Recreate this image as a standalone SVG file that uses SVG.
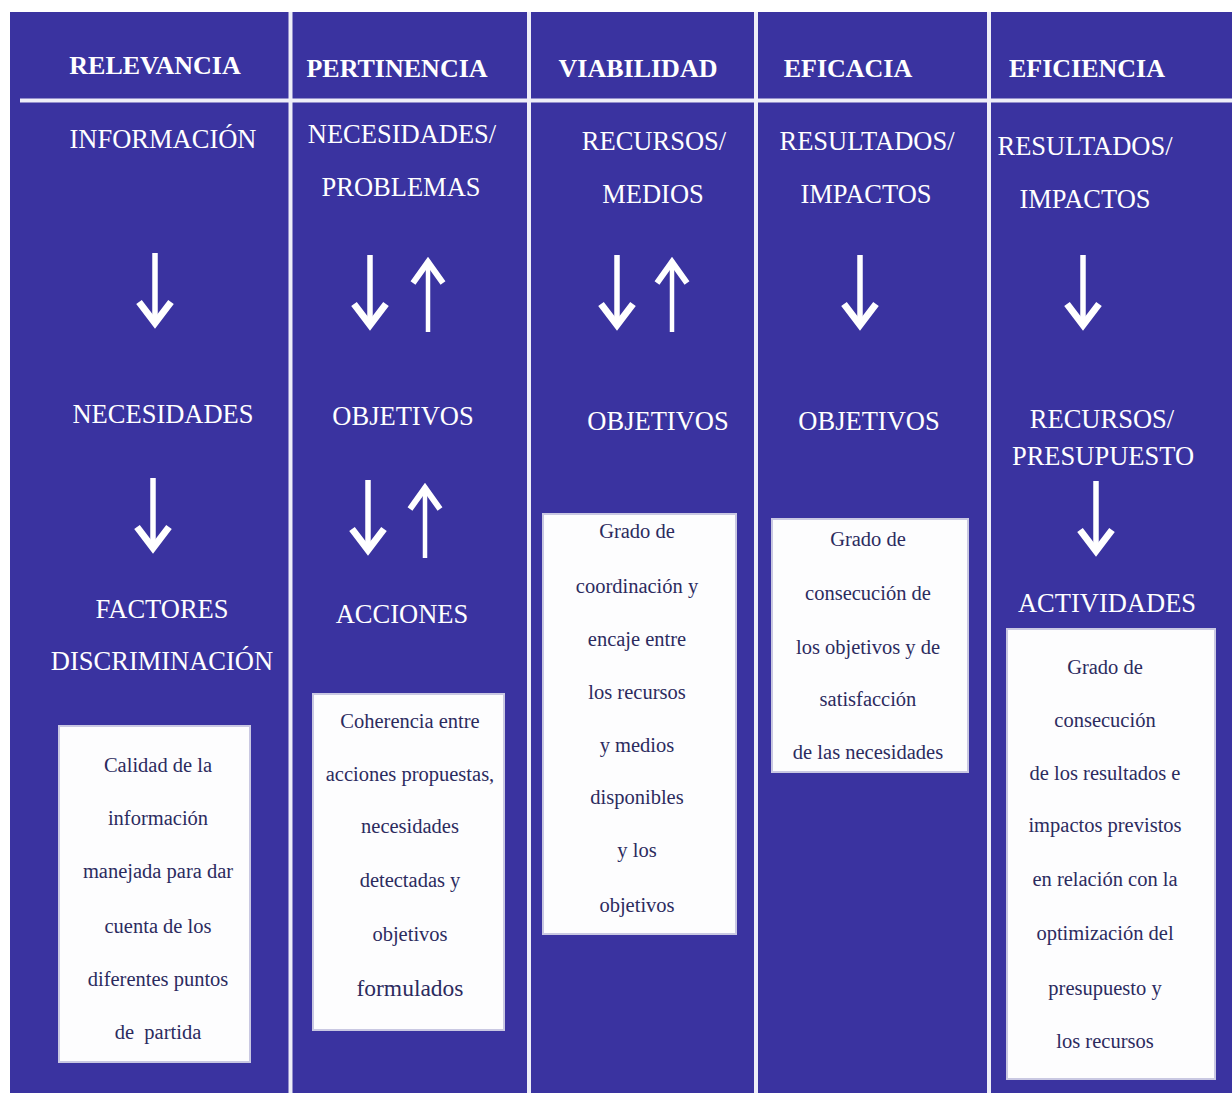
<svg xmlns="http://www.w3.org/2000/svg" xmlns:xlink="http://www.w3.org/1999/xlink" width="1232" height="1093" viewBox="0 0 1232 1093">
  <style>
    .panel { fill: #3a33a0; }
    .rule { stroke: #eeeef8; stroke-width: 4; fill: none; }
    text { font-family: 'Liberation Serif', 'DejaVu Serif', serif; }
    .head { font-weight: bold; font-size: 26px; fill: #ffffff; text-anchor: middle; }
    .lbl { font-size: 26.5px; fill: #ffffff; text-anchor: middle; }
    .box { fill: #fdfdfe; stroke: #c9c8e2; stroke-width: 2; }
    .txt { font-size: 20.5px; fill: #2c2b5e; text-anchor: middle; }
    .big { font-size: 23.5px; }
    .shaft { stroke: #ffffff; fill: none; }
    .tip { stroke: #ffffff; fill: none; stroke-linejoin: miter; stroke-miterlimit: 10; }
  </style>
  <defs>
    <!-- downward arrow: shaft top at origin, point 77px below -->
    <g id="down">
      <path class="shaft" d="M0 0 V70" stroke-width="5.5"/>
      <polyline class="tip" points="-16,49 0,70 16,49" stroke-width="7"/>
    </g>
    <!-- upward arrow: point at origin, shaft end 77px below -->
    <g id="up">
      <path class="shaft" d="M0 6 V77" stroke-width="4.5"/>
      <polyline class="tip" points="-15,28 0,7 15,28" stroke-width="6"/>
    </g>
  </defs>

  <rect x="0" y="0" width="1232" height="1093" fill="#ffffff"/>
  <rect class="panel" x="10" y="12" width="1222" height="1081"/>

  <!-- column and header dividers -->
  <g id="grid">
    <line class="rule" x1="20" y1="100.5" x2="1232" y2="100.5"/>
    <line class="rule" x1="290.5" y1="12" x2="290.5" y2="1093"/>
    <line class="rule" x1="529" y1="12" x2="529" y2="1093"/>
    <line class="rule" x1="756" y1="12" x2="756" y2="1093"/>
    <line class="rule" x1="989" y1="12" x2="989" y2="1093"/>
  </g>

  <!-- column 1: RELEVANCIA -->
  <g id="relevancia">
    <text class="head" x="155" y="74">RELEVANCIA</text>
    <text class="lbl" x="163" y="148">INFORMACIÓN</text>
    <text class="lbl" x="163" y="423">NECESIDADES</text>
    <text class="lbl" x="162" y="618">FACTORES</text>
    <text class="lbl" x="162" y="670">DISCRIMINACIÓN</text>
  </g>
  <g id="relevancia-box">
    <rect class="box" x="59" y="726" width="191" height="336"/>
    <text class="txt" x="158" y="772">Calidad de la</text>
    <text class="txt" x="158" y="825">información</text>
    <text class="txt" x="158" y="878">manejada para dar</text>
    <text class="txt" x="158" y="933">cuenta de los</text>
    <text class="txt" x="158" y="986">diferentes puntos</text>
    <text class="txt" x="158" y="1039" xml:space="preserve">de  partida</text>
  </g>

  <!-- column 2: PERTINENCIA -->
  <g id="pertinencia">
    <text class="head" x="397" y="77">PERTINENCIA</text>
    <text class="lbl" x="402" y="143">NECESIDADES/</text>
    <text class="lbl" x="401" y="196">PROBLEMAS</text>
    <text class="lbl" x="403" y="425">OBJETIVOS</text>
    <text class="lbl" x="402" y="623">ACCIONES</text>
  </g>
  <g id="pertinencia-box">
    <rect class="box" x="313" y="694" width="191" height="336"/>
    <text class="txt" x="410" y="728">Coherencia entre</text>
    <text class="txt" x="410" y="781">acciones propuestas,</text>
    <text class="txt" x="410" y="833">necesidades</text>
    <text class="txt" x="410" y="887">detectadas y</text>
    <text class="txt" x="410" y="941">objetivos</text>
    <text class="txt big" x="410" y="996">formulados</text>
  </g>

  <!-- column 3: VIABILIDAD -->
  <g id="viabilidad">
    <text class="head" x="638" y="77">VIABILIDAD</text>
    <text class="lbl" x="654" y="150">RECURSOS/</text>
    <text class="lbl" x="653" y="203">MEDIOS</text>
    <text class="lbl" x="658" y="430">OBJETIVOS</text>
  </g>
  <g id="viabilidad-box">
    <rect class="box" x="543" y="514" width="193" height="420"/>
    <text class="txt" x="637" y="538">Grado de</text>
    <text class="txt" x="637" y="593">coordinación y</text>
    <text class="txt" x="637" y="646">encaje entre</text>
    <text class="txt" x="637" y="699">los recursos</text>
    <text class="txt" x="637" y="752">y medios</text>
    <text class="txt" x="637" y="804">disponibles</text>
    <text class="txt" x="637" y="857">y los</text>
    <text class="txt" x="637" y="912">objetivos</text>
  </g>

  <!-- column 4: EFICACIA -->
  <g id="eficacia">
    <text class="head" x="848" y="77">EFICACIA</text>
    <text class="lbl" x="867" y="150">RESULTADOS/</text>
    <text class="lbl" x="866" y="203">IMPACTOS</text>
    <text class="lbl" x="869" y="430">OBJETIVOS</text>
  </g>
  <g id="eficacia-box">
    <rect class="box" x="772" y="519" width="196" height="253"/>
    <text class="txt" x="868" y="546">Grado de</text>
    <text class="txt" x="868" y="600">consecución de</text>
    <text class="txt" x="868" y="654">los objetivos y de</text>
    <text class="txt" x="868" y="706">satisfacción</text>
    <text class="txt" x="868" y="759">de las necesidades</text>
  </g>

  <!-- column 5: EFICIENCIA -->
  <g id="eficiencia">
    <text class="head" x="1087" y="77">EFICIENCIA</text>
    <text class="lbl" x="1085" y="155">RESULTADOS/</text>
    <text class="lbl" x="1085" y="208">IMPACTOS</text>
    <text class="lbl" x="1102" y="428">RECURSOS/</text>
    <text class="lbl" x="1103" y="465">PRESUPUESTO</text>
    <text class="lbl" x="1107" y="612">ACTIVIDADES</text>
  </g>
  <g id="eficiencia-box">
    <rect class="box" x="1007" y="629" width="208" height="450"/>
    <text class="txt" x="1105" y="674">Grado de</text>
    <text class="txt" x="1105" y="727">consecución</text>
    <text class="txt" x="1105" y="780">de los resultados e</text>
    <text class="txt" x="1105" y="832">impactos previstos</text>
    <text class="txt" x="1105" y="886">en relación con la</text>
    <text class="txt" x="1105" y="940">optimización del</text>
    <text class="txt" x="1105" y="995">presupuesto y</text>
    <text class="txt" x="1105" y="1048">los recursos</text>
  </g>

  <!-- flow arrows -->
  <g id="connectors">
    <use xlink:href="#down" transform="translate(155,253)"/>
    <use xlink:href="#down" transform="translate(153,478)"/>
    <use xlink:href="#down" transform="translate(370,255)"/>
    <use xlink:href="#up" transform="translate(428,255)"/>
    <use xlink:href="#down" transform="translate(368,480)"/>
    <use xlink:href="#up" transform="translate(425,481)"/>
    <use xlink:href="#down" transform="translate(617,255)"/>
    <use xlink:href="#up" transform="translate(672,255)"/>
    <use xlink:href="#down" transform="translate(860,255)"/>
    <use xlink:href="#down" transform="translate(1083,255)"/>
    <use xlink:href="#down" transform="translate(1096,481)"/>
  </g>
</svg>
